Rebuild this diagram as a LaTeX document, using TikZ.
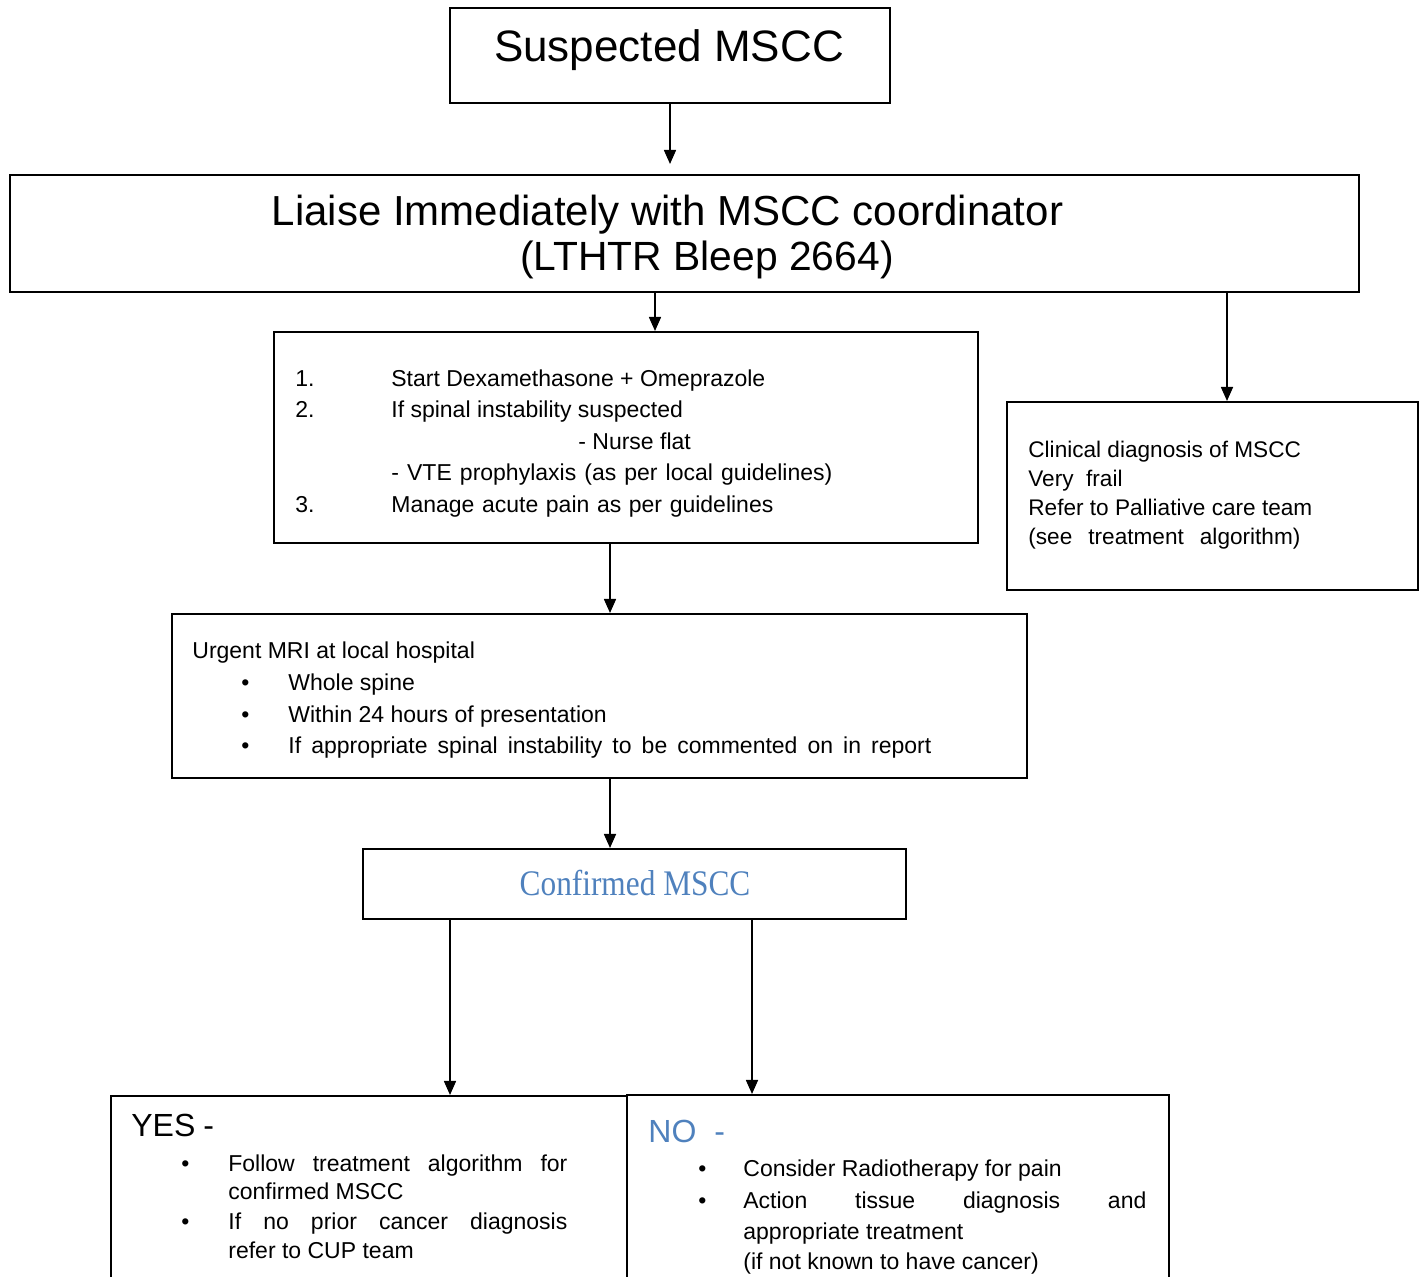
\documentclass[tikz,border=0pt]{standalone}
\usepackage{fontspec}
\setmainfont{Liberation Sans}
\newfontfamily\conffont{Liberation Serif}[FakeStretch=0.87]
\usetikzlibrary{arrows.meta}
\definecolor{msccblue}{HTML}{4F81BD}

\begin{document}
\begin{tikzpicture}[x=0.5pt,y=-0.5pt,
	box/.style={draw,line width=1pt,inner sep=0pt},
	txt/.style={anchor=base west,inner sep=0pt,font=\fontsize{11.5}{14}\selectfont},
	mid/.style={anchor=base,inner sep=0pt},
	arr/.style={line width=0.8pt,-{Triangle[length=7pt,width=6pt]}}]
	\clip (0,0) rectangle (1426,1277);
	% boxes
	\node[box,minimum width=220pt,minimum height=47.5pt] (susp) at (670,55.5) {};
	\node[box,minimum width=674.5pt,minimum height=58.5pt] (liaise) at (684.5,233.5) {};
	\node[box,minimum width=352pt,minimum height=105.5pt] (steps) at (626,437.5) {};
	\node[box,minimum width=205.5pt,minimum height=94pt] (clin) at (1212.5,496) {};
	\node[box,minimum width=427.5pt,minimum height=82pt] (mri) at (599.5,696) {};
	\node[box,minimum width=271.5pt,minimum height=35pt] (conf) at (634.5,884) {};
	\node[box,minimum width=258pt,minimum height=112pt] (yes) at (369,1208) {};
	\node[box,minimum width=271pt,minimum height=112.5pt] (no) at (898,1207.5) {};
	% connectors
	\draw[arr,shorten >=5pt] (susp.south) -- (susp.south |- liaise.north);
	\draw[arr] (655,0 |- liaise.south) -- (655,0 |- steps.north);
	\draw[arr] (1227,0 |- liaise.south) -- (1227,0 |- clin.north);
	\draw[arr] (610,0 |- steps.south) -- (610,0 |- mri.north);
	\draw[arr] (610,0 |- mri.south) -- (610,0 |- conf.north);
	\draw[arr] (450,0 |- conf.south) -- (450,0 |- yes.north);
	\draw[arr] (752,0 |- conf.south) -- (752,0 |- no.north);
	% texts
	\node[mid,font=\fontsize{22}{26}\selectfont] (suspt) at (669,62) {Suspected MSCC};
	\node[mid,font=\fontsize{21}{24}\selectfont] (liaiset) at (667.5,226) {Liaise Immediately with MSCC coordinator};
	\node[mid,font=\fontsize{20.4}{24}\selectfont] (bleep) at (707,271) {(LTHTR Bleep 2664)};
	\foreach \i/\y/\t in {1/386.5/Start Dexamethasone + Omeprazole,2/418/If spinal instability suspected,3/512.5/\makebox[191pt][s]{Manage acute pain as per guidelines}} {
		\node[txt] (num\i) at (295,\y) {\i.};
		\node[txt] (step\i) at (391,\y) {\t};
	}
	\node[txt] (nurse) at (578,449.5) {- Nurse flat};
	\node[txt] (vte) at (391,481) {\makebox[220.5pt][s]{- VTE prophylaxis (as per local guidelines)}};
	\foreach \i/\y/\t in {1/458/Clinical diagnosis of MSCC,2/487/Very\ \ frail,3/516/Refer to Palliative care team,4/545/\makebox[136pt][s]{(see treatment algorithm)}}
		\node[txt,font=\fontsize{11.3}{14}\selectfont] (clin\i) at (1028,\y) {\t};
	\node[txt] (mrihead) at (192,659) {Urgent MRI at local hospital};
	\foreach \i/\y/\t in {1/691/Whole spine,2/723/Within 24 hours of presentation,3/754/\makebox[321.5pt][s]{If appropriate spinal instability to be commented on in report}} {
		\node[txt] (mb\i) at (241,\y) {\textbullet};
		\node[txt] (mri\i) at (288,\y) {\t};
	}
	\node[mid,font=\conffont\fontsize{18}{21}\selectfont,text=msccblue] (conft) at (635,896) {Confirmed MSCC};
	% yes / no
	\node[txt,font=\fontsize{16}{19}\selectfont] (yest) at (131,1137) {YES\hspace{4pt}-};
	\node[txt] (yb1) at (181,1172) {\textbullet};
	\node[txt] (yb2) at (181,1230) {\textbullet};
	\node[txt] (yes1) at (228,1172) {\makebox[169.5pt][s]{Follow treatment algorithm for}};
	\node[txt] (yes2) at (228,1200) {confirmed MSCC};
	\node[txt] (yes3) at (228,1230) {\makebox[169.5pt][s]{If no prior cancer diagnosis}};
	\node[txt] (yes4) at (228,1259) {refer to CUP team};
	\node[txt,font=\fontsize{16}{19}\selectfont,text=msccblue] (not) at (648,1143) {NO\hspace{9pt}-};
	\node[txt] (nb1) at (698,1177) {\textbullet};
	\node[txt] (nb2) at (698,1209) {\textbullet};
	\node[txt] (no1) at (743,1177) {Consider Radiotherapy for pain};
	\node[txt] (no2) at (743,1209) {\makebox[201.5pt][s]{Action tissue diagnosis and}};
	\node[txt] (no3) at (743,1239) {appropriate treatment};
	\node[txt] (no4) at (743,1269) {(if not known to have cancer)};
\end{tikzpicture}
\end{document}
